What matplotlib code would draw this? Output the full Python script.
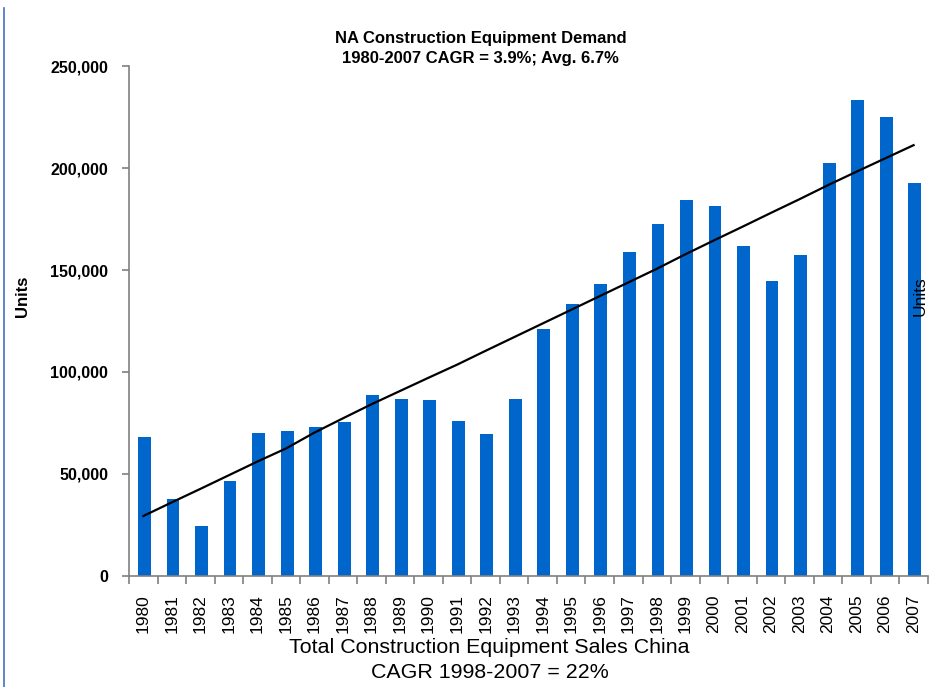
import matplotlib
matplotlib.use("Agg")
import matplotlib.pyplot as plt
from matplotlib.lines import Line2D
import numpy as np

# -- Data --
years = [str(y) for y in range(1980, 2008)]
units = [68000, 37700, 24500, 46600, 70100, 71100, 73000, 75500, 88700, 86800,
         86300, 76000, 69600, 86800, 121000, 133300, 143100, 158800, 172500, 184300,
         181400, 161800, 144600, 157400, 202500, 233300, 225000, 192500]
trend = [29400, 36100, 42700, 49400, 56100, 62500, 70300, 77300, 84200, 90700,
         97200, 103600, 110400, 117100, 123800, 130500, 137200, 143900, 150600, 157700,
         164500, 171200, 178000, 184700, 191600, 198200, 204700, 211200]
yticks = [0, 50000, 100000, 150000, 200000, 250000]

# -- Fonts --
narrow = ['Liberation Sans Narrow', 'Liberation Sans', 'DejaVu Sans']
arial = ['Liberation Sans', 'DejaVu Sans']

# -- Plot --
fig = plt.figure(figsize=(9.31, 6.87), dpi=100, facecolor='white')
ax = fig.add_axes([0.1386, 0.1616, 0.858, 0.7423])
x = np.arange(len(years))
ax.bar(x + 0.04, units, width=0.45, color='#0066CC', zorder=2)
ax.plot(x, trend, color='black', linewidth=1.6, zorder=3)

# -- Cosmetics --
ax.set_xlim(-0.5, len(years) - 0.5)
ax.set_ylim(0, 250000)
for s in ['top', 'right']:
    ax.spines[s].set_visible(False)
for s in ['left', 'bottom']:
    ax.spines[s].set_color('#808080')
    ax.spines[s].set_linewidth(1.2)

ax.set_yticks(yticks)
ax.set_yticklabels([f"{v:,}" for v in yticks], family=narrow, weight='bold', fontsize=11.5)
ax.tick_params(axis='y', length=5, color='#808080', width=1.2, pad=10)

ax.set_xticks(x)
ax.set_xticklabels(years, rotation=90, family=arial, fontsize=12.5)
ax.tick_params(axis='x', which='major', length=0, pad=13)
ax.set_xticks(np.arange(-0.5, len(years), 1), minor=True)
ax.tick_params(axis='x', which='minor', length=6, color='#808080', width=1.2)

# -- Texts --
fig.text(0.516, 0.944, "NA Construction Equipment Demand", ha='center', va='center',
         family=narrow, weight='bold', fontsize=12)
fig.text(0.516, 0.915, "1980-2007 CAGR = 3.9%; Avg. 6.7%", ha='center', va='center',
         family=narrow, weight='bold', fontsize=12)
fig.text(0.024, 0.569, "Units", rotation=90, ha='center', va='center',
         family=narrow, weight='bold', fontsize=12)
fig.text(0.988, 0.569, "Units", rotation=90, ha='center', va='center',
         family=arial, fontsize=12.5)
fig.text(0.526, 0.058, "Total Construction Equipment Sales China", ha='center', va='center',
         family=arial, fontsize=15.4)
fig.text(0.526, 0.021, "CAGR 1998-2007 = 22%", ha='center', va='center',
         family=arial, fontsize=15.4)

# thin blue rule on the left edge
fig.add_artist(Line2D([0.0045, 0.0045], [0.0, 0.988], transform=fig.transFigure,
                      color='#4472C4', linewidth=1.2))

fig.savefig("out.png", dpi=100, facecolor='white')
